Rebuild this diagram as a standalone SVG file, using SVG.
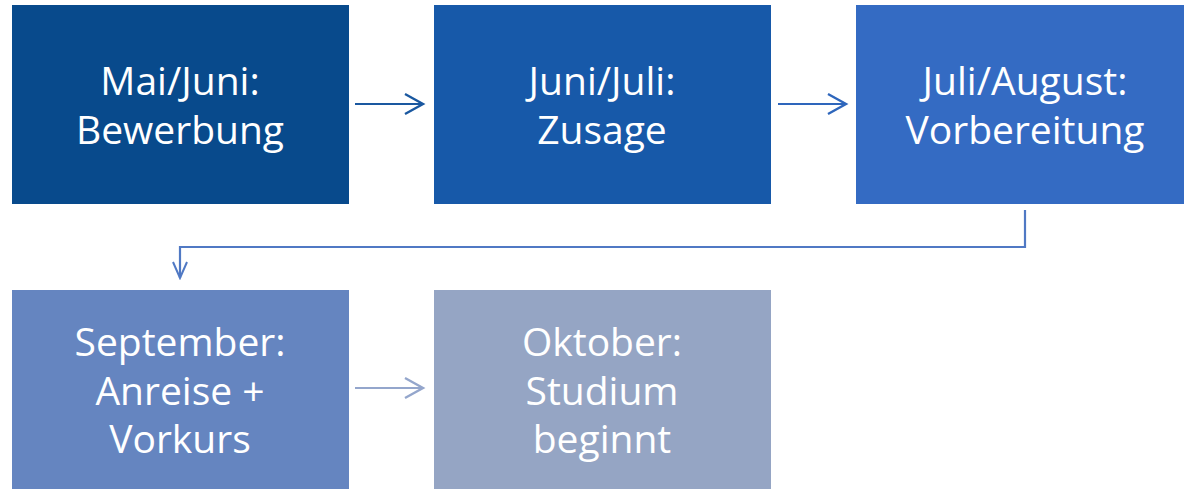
<svg xmlns="http://www.w3.org/2000/svg" width="1184" height="489" viewBox="0 0 1184 489">
<style>
text{font-family:"Open Sans","Noto Sans",sans-serif;font-size:39px;fill:#fff;text-anchor:middle}
.c{fill:none;stroke-width:2.2}
</style>
<defs>
<marker id="a1" markerUnits="userSpaceOnUse" markerWidth="24" markerHeight="24" refX="20" refY="11" orient="auto" viewBox="0 0 24 22"><path d="M2,1 L20,11 L2,21" fill="none" stroke="#1A58A0" stroke-width="2.4"/></marker>
<marker id="a2" markerUnits="userSpaceOnUse" markerWidth="24" markerHeight="24" refX="20" refY="11" orient="auto" viewBox="0 0 24 22"><path d="M2,1 L20,11 L2,21" fill="none" stroke="#2E66BC" stroke-width="2.4"/></marker>
<marker id="a3" markerUnits="userSpaceOnUse" markerWidth="20" markerHeight="20" refX="18" refY="8" orient="auto" viewBox="0 0 20 16"><path d="M2,1 L18,8 L2,15" fill="none" stroke="#5079C4" stroke-width="2"/></marker>
<marker id="a4" markerUnits="userSpaceOnUse" markerWidth="24" markerHeight="24" refX="20" refY="11" orient="auto" viewBox="0 0 24 22"><path d="M2,1 L20,11 L2,21" fill="none" stroke="#94A6CC" stroke-width="2.4"/></marker>
</defs>
<g id="n1"><rect x="12" y="5" width="337" height="199" fill="#084A8C"/><text x="180" y="95">Mai/Juni:</text><text x="180" y="144">Bewerbung</text></g>
<g id="n2"><rect x="434" y="5" width="337" height="199" fill="#1759A9"/><text x="602" y="95">Juni/Juli:</text><text x="602" y="144">Zusage</text></g>
<g id="n3"><rect x="856" y="5" width="328" height="199" fill="#346BC3"/><text x="1025" y="95">Juli/August:</text><text x="1025" y="144">Vorbereitung</text></g>
<g id="n4"><rect x="12" y="290" width="337" height="199" fill="#6585C0"/><text x="180" y="356">September:</text><text x="180" y="405">Anreise +</text><text x="180" y="453">Vorkurs</text></g>
<g id="n5"><rect x="434" y="290" width="337" height="199" fill="#95A5C4"/><text x="602" y="356">Oktober:</text><text x="602" y="405">Studium</text><text x="602" y="453">beginnt</text></g>
<g id="connectors">
<path class="c" d="M355,104 H423" stroke="#1A58A0" marker-end="url(#a1)"/>
<path class="c" d="M778,104 H846" stroke="#2E66BC" marker-end="url(#a2)"/>
<path class="c" d="M1025,210 V247 H180 V278" stroke="#5079C4" marker-end="url(#a3)"/>
<path class="c" d="M355,388 H423" stroke="#94A6CC" marker-end="url(#a4)"/>
</g>
</svg>
